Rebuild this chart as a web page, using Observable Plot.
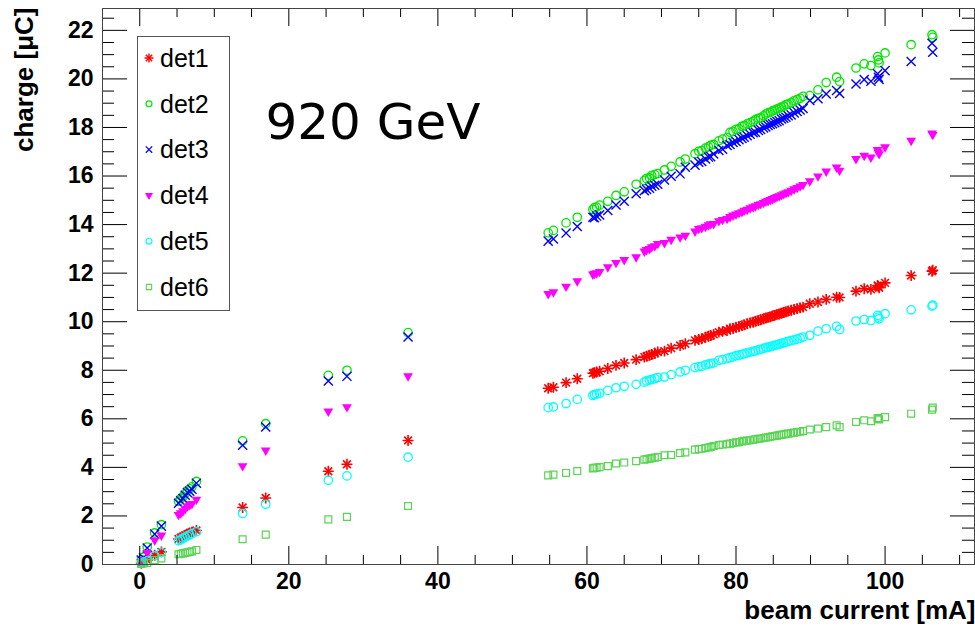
<!DOCTYPE html>
<html><head><meta charset="utf-8">
<script src="https://cdn.jsdelivr.net/npm/d3@7"></script>
<script src="https://cdn.jsdelivr.net/npm/@observablehq/plot@0.6"></script>
<style>body{margin:0;background:#fff} #chart{width:975px;height:634px}</style>
</head><body><div id="chart"></div>
<script>
// beam current [mA]
const current = [0.2,0.5,1.0,2.0,2.9,5.2,5.5,5.8,6.1,6.4,6.7,7.0,7.6,13.8,16.9,25.3,27.8,36.0,
 54.8,55.5,57.2,58.7,60.8,61.0,61.3,61.7,62.8,63.9,65.0,66.6,67.7,68.0,68.4,68.7,69.1,69.5,70.4,71.3,72.5,73.2,
 74.5,75.0,75.4,75.9,76.3,76.6,77.0,77.7,78.2,78.8,79.2,79.6,80.0,80.4,80.8,81.1,81.5,81.9,82.3,82.6,83.0,83.3,
 83.7,84.0,84.3,84.6,84.9,85.2,85.5,85.8,86.1,86.4,86.7,87.0,87.4,87.8,88.2,88.6,89.0,89.9,91.0,92.1,93.5,93.9,
 96.1,97.2,98.1,99.0,99.1,99.2,100.0,103.5,106.3,106.4];
// charge [uC] per detector
const det1 = [0.05,0.10,0.18,0.38,0.52,1.05,1.10,1.15,1.20,1.25,1.30,1.33,1.40,2.35,2.74,3.84,4.13,5.11,
 7.26,7.30,7.49,7.65,7.88,7.90,7.93,7.96,8.07,8.20,8.30,8.44,8.54,8.58,8.62,8.65,8.70,8.75,8.79,8.91,9.02,9.09,
 9.23,9.27,9.30,9.36,9.40,9.43,9.48,9.57,9.60,9.64,9.71,9.72,9.77,9.80,9.84,9.87,9.92,9.95,9.98,10.02,10.05,10.08,
 10.12,10.15,10.18,10.20,10.24,10.26,10.30,10.32,10.35,10.38,10.41,10.44,10.47,10.50,10.54,10.57,10.60,10.74,10.81,10.92,11.01,11.00,
 11.26,11.36,11.33,11.49,11.45,11.40,11.60,11.90,12.08,12.12];
const det2 = [0.20,0.30,0.72,1.30,1.64,2.60,2.72,2.80,2.92,3.05,3.12,3.20,3.42,5.09,5.80,7.79,8.00,9.55,
 13.66,13.76,14.07,14.30,14.62,14.70,14.72,14.80,14.96,15.20,15.35,15.66,15.82,15.90,15.92,16.02,16.06,16.10,16.25,16.40,16.58,16.70,
 16.92,17.02,17.05,17.15,17.20,17.26,17.30,17.45,17.52,17.58,17.80,17.84,17.92,17.95,18.05,18.08,18.15,18.20,18.25,18.32,18.38,18.40,
 18.48,18.55,18.60,18.62,18.68,18.72,18.76,18.80,18.84,18.88,18.94,18.96,19.02,19.10,19.15,19.20,19.28,19.31,19.55,19.85,20.07,19.89,
 20.45,20.62,20.55,20.92,20.78,20.66,21.07,21.41,21.82,21.71];
const det3 = [0.18,0.28,0.68,1.25,1.58,2.52,2.62,2.72,2.85,2.96,3.02,3.10,3.35,4.91,5.66,7.56,7.75,9.37,
 13.32,13.41,13.65,13.92,14.30,14.28,14.35,14.40,14.58,14.81,14.96,15.27,15.40,15.45,15.50,15.58,15.62,15.66,15.84,15.99,16.09,16.36,
 16.45,16.57,16.60,16.70,16.78,16.80,16.91,17.05,17.10,17.26,17.30,17.38,17.42,17.50,17.55,17.60,17.66,17.72,17.78,17.80,17.88,17.92,
 17.98,18.02,18.08,18.12,18.15,18.20,18.24,18.28,18.35,18.38,18.42,18.48,18.52,18.60,18.66,18.72,18.78,19.11,19.18,19.38,19.52,19.40,
 19.79,19.97,19.90,20.21,20.07,19.98,20.34,20.72,21.47,21.10];
const det4 = [0.10,0.20,0.48,1.00,1.20,2.05,2.12,2.20,2.30,2.40,2.45,2.50,2.68,4.06,4.70,6.31,6.49,7.76,
 11.15,11.22,11.45,11.67,11.95,11.98,12.00,12.06,12.25,12.43,12.55,12.66,12.90,12.96,13.00,13.08,13.12,13.21,13.25,13.38,13.48,13.55,
 13.72,13.83,13.86,13.92,13.98,14.02,14.03,14.15,14.20,14.24,14.32,14.38,14.42,14.48,14.52,14.58,14.62,14.68,14.72,14.76,14.82,14.85,
 14.90,14.95,14.98,15.02,15.06,15.10,15.14,15.18,15.22,15.26,15.30,15.34,15.40,15.46,15.52,15.58,15.64,15.79,15.99,16.19,16.36,16.23,
 16.71,16.84,16.77,17.08,16.98,16.91,17.19,17.46,17.76,17.70];
const det5 = [0.05,0.10,0.15,0.36,0.50,0.98,1.02,1.08,1.13,1.18,1.22,1.27,1.35,2.10,2.48,3.47,3.65,4.42,
 6.46,6.49,6.63,6.80,6.96,7.00,7.02,7.05,7.17,7.28,7.34,7.42,7.51,7.56,7.60,7.62,7.66,7.70,7.72,7.82,7.93,8.00,
 8.11,8.15,8.16,8.22,8.25,8.27,8.30,8.41,8.44,8.48,8.52,8.55,8.60,8.62,8.66,8.68,8.72,8.75,8.78,8.80,8.84,8.86,
 8.90,8.93,8.95,8.97,9.00,9.03,9.05,9.08,9.11,9.13,9.16,9.19,9.22,9.25,9.28,9.32,9.37,9.44,9.61,9.71,9.81,9.68,
 10.03,10.09,10.05,10.26,10.19,10.12,10.33,10.49,10.64,10.68];
const det6 = [0.02,0.04,0.06,0.18,0.25,0.42,0.44,0.46,0.48,0.50,0.52,0.54,0.60,1.04,1.23,1.86,1.96,2.41,
 3.67,3.70,3.77,3.85,3.96,3.98,3.99,4.01,4.05,4.16,4.20,4.26,4.32,4.34,4.36,4.38,4.40,4.43,4.50,4.51,4.59,4.62,
 4.73,4.75,4.77,4.80,4.82,4.84,4.88,4.92,4.94,4.95,4.98,5.00,5.03,5.04,5.07,5.09,5.10,5.12,5.14,5.16,5.18,5.19,
 5.21,5.23,5.24,5.26,5.28,5.29,5.31,5.33,5.34,5.36,5.38,5.39,5.41,5.43,5.45,5.47,5.50,5.56,5.60,5.66,5.73,5.66,
 5.87,5.94,5.90,6.03,6.00,5.97,6.07,6.21,6.38,6.46];

const detNames = ["det1","det2","det3","det4","det5","det6"];
const xMajor = [0,20,40,60,80,100];
const xMinor = [-5,5,10,15,25,30,35,45,50,55,65,70,75,85,90,95,105,110];
const yMajor = [0,2,4,6,8,10,12,14,16,18,20,22];
const yMinor = d3.range(1, 46).map(k => k/2).filter(v => v % 2 !== 0);

const series = [det1, det2, det3, det4, det5, det6];
const rows = k => current.map((c, i) => ({det: detNames[k], current: c, charge: series[k][i]}));

// each detector may use several overlaid symbols (det1: ROOT-style "*" = plus + times)
const styles = [
  [{symbol: "plus", stroke: "#ff0000", fill: "none", r: 3.6, strokeWidth: 1.6},
   {symbol: "times", stroke: "#ff0000", fill: "none", r: 3.6, strokeWidth: 1.6}],
  [{symbol: "circle",   stroke: "#00e600", fill: "none", r: 4.2, strokeWidth: 1.3}],
  [{symbol: "times",    stroke: "#0000ff", fill: "none", r: 4.2, strokeWidth: 1.4}],
  [{symbol: "triangle", stroke: "none", fill: "#ff00ff", r: 3.6, rotate: 180}],
  [{symbol: "circle",   stroke: "#00ffff", fill: "none", r: 4.2, strokeWidth: 1.3}],
  [{symbol: "square",   stroke: "#59d454", fill: "none", r: 3.9, strokeWidth: 1.2}]
];

const H = 556, W = 872;
const font = "Liberation Sans, Arial, Helvetica, sans-serif";

const plot = Plot.plot({
  width: 975, height: 634,
  marginLeft: 102, marginRight: 1, marginTop: 8, marginBottom: 70,
  style: {fontFamily: font, background: "white", color: "black"},
  x: {domain: [-5, 112]},
  y: {domain: [0, 22.9]},
  marks: [
    ...styles.flatMap((list, k) => list.map(s => Plot.dot(rows(k), {x: "current", y: "charge", ...s}))),
    Plot.ruleX(xMajor, {insetTop: H - 18, stroke: "black"}),
    Plot.ruleX(xMinor, {insetTop: H - 9, stroke: "black"}),
    Plot.ruleX(xMajor, {insetBottom: H - 18, stroke: "black"}),
    Plot.ruleX(xMinor, {insetBottom: H - 9, stroke: "black"}),
    Plot.ruleY(yMajor, {insetRight: W - 25, stroke: "black"}),
    Plot.ruleY(yMinor, {insetRight: W - 12, stroke: "black"}),
    Plot.ruleY(yMajor, {insetLeft: W - 24, stroke: "black"}),
    Plot.ruleY(yMinor, {insetLeft: W - 12, stroke: "black"}),
    Plot.frame({stroke: "#444", strokeWidth: 1}),
    Plot.axisX({ticks: xMajor, tickSize: 0, tickPadding: 8, label: null, fontSize: 23, fontWeight: "bold", tickFormat: d => String(d)}),
    Plot.axisY({ticks: yMajor, tickSize: 0, tickPadding: 9, label: null, fontSize: 23, fontWeight: "bold", tickFormat: d => String(d)}),
    Plot.text(["beam current [mA]"], {frameAnchor: "bottom-right", dx: 1, dy: 46, textAnchor: "end", lineAnchor: "middle", fontSize: 26, fontWeight: "bold"}),
    Plot.text(["charge [\u03bcC]"], {frameAnchor: "top-left", dx: -78, dy: -1, rotate: -90, textAnchor: "end", lineAnchor: "middle", fontSize: 26, fontWeight: "bold"}),
    Plot.text(["920 GeV"], {frameAnchor: "top-left", dx: 163, dy: 114, textAnchor: "start", lineAnchor: "middle", fontSize: 50, fontFamily: "DejaVu Sans"})
  ]
});
document.getElementById("chart").appendChild(plot);

// legend box
const svg = d3.select(plot);
const lg = svg.append("g").attr("text-anchor", "start");
lg.append("rect").attr("x", 137.5).attr("y", 36.5).attr("width", 92).attr("height", 274)
  .attr("fill", "white").attr("stroke", "#555").attr("stroke-width", 1);
const symMap = {plus: d3.symbolPlus, circle: d3.symbolCircle, times: d3.symbolTimes, triangle: d3.symbolTriangle, square: d3.symbolSquare};
detNames.forEach((name, k) => {
  const cy = 58 + k * 45.8;
  styles[k].forEach(s => {
    lg.append("path")
      .attr("d", d3.symbol(symMap[s.symbol], 28)())
      .attr("transform", `translate(149,${cy})` + (s.rotate ? ` rotate(${s.rotate})` : ""))
      .attr("fill", s.fill).attr("stroke", s.stroke).attr("stroke-width", s.strokeWidth ? s.strokeWidth * 0.9 : null);
  });
  lg.append("text").attr("x", 160).attr("y", cy).attr("dy", "0.35em").attr("text-anchor", "start")
    .attr("font-family", font).attr("font-size", 25).attr("fill", "black").text(name);
});
</script>
</body></html>
